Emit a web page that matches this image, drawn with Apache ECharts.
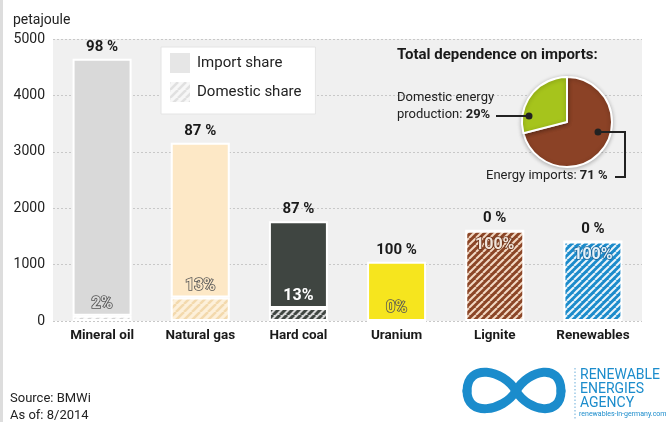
<!DOCTYPE html>
<html>
<head>
<meta charset="utf-8">
<script src="https://cdn.jsdelivr.net/npm/echarts@6/dist/echarts.min.js"></script>
<style>
html,body{margin:0;padding:0;background:#fff;}
#chart{width:669px;height:422px;}
</style>
</head>
<body>
<div id="chart"></div>
<script>
// ---- data ----
const categories = ['Mineral oil', 'Natural gas', 'Hard coal', 'Uranium', 'Lignite', 'Renewables'];
const importValues = [4555, 2745, 1540, 1050, 0, 0];          // petajoule
const domesticValues = [95, 415, 230, 0, 1600, 1410];         // petajoule
const importShare = [98, 87, 87, 100, 0, 0];                  // %
const domesticShare = [2, 13, 13, 0, 100, 100];               // %
const yTicks = [0, 1000, 2000, 3000, 4000, 5000];
const pieNames = ['Energy imports', 'Domestic energy production'];
const pieValues = [71, 29];

// ---- styles ----
const FONT = 'Roboto';
function hatch(bg, fg, s, lw) {
  const c = document.createElement('canvas');
  c.width = s; c.height = s;
  const g = c.getContext('2d');
  g.fillStyle = bg; g.fillRect(0, 0, s, s);
  g.strokeStyle = fg; g.lineWidth = lw;
  for (const k of [-s, 0, s]) {
    g.beginPath(); g.moveTo(k, s); g.lineTo(k + s, 0); g.stroke();
  }
  return { image: c, repeat: 'repeat' };
}
const importColors = ['#d9d9d9', '#fde8c6', '#3f4541', '#f6e51e', '#8b4526', '#1b8bcb'];
const domesticColors = [
  hatch('#fafafa', '#d4d4d4', 8, 2.5),
  hatch('#fdf0da', '#f3d9ad', 8, 2.5),
  hatch('#d8d8d8', '#3f4541', 7, 3),
  hatch('#fdf6b0', '#f6e51e', 7, 2.5),
  hatch('#8b4526', '#f2d9c4', 7, 2),
  hatch('#1b8bcb', '#eaf5fb', 7, 2)
];
const innerLabelFill = ['#dcdcdc', '#fde8c6', '#ffffff', '#f6e51e', '#f2e6dc', '#e8f3fa'];
const innerLabelStroke = ['#555555', '#555555', '#3f4541', '#555555', '#6b3118', '#15649a'];

const chart = echarts.init(document.getElementById('chart'));

const LOGO = '#1b8ccc';
const infinity = [
  [516, 391, 529, 369, 561, 363, 561, 391],
  [561, 391, 561, 417, 529, 412, 516, 391],
  [516, 391, 503, 369, 467, 363, 467, 391],
  [467, 391, 467, 417, 503, 412, 516, 391]
].map(b => ({
  type: 'bezierCurve', z: 10,
  shape: { x1: b[0], y1: b[1], cpx1: b[2], cpy1: b[3], cpx2: b[4], cpy2: b[5], x2: b[6], y2: b[7] },
  style: { stroke: LOGO, lineWidth: 9, fill: null, lineCap: 'round' }
}));

const option = {
  backgroundColor: '#ffffff',
  animation: false,
  textStyle: { fontFamily: FONT },
  title: {
    text: 'petajoule', left: 8, top: 8,
    textStyle: { fontFamily: FONT, fontSize: 14, fontWeight: 'normal', color: '#222' }
  },
  legend: {
    orient: 'vertical', left: 161, top: 47,
    backgroundColor: '#ffffff', borderColor: '#e4e4e4', borderWidth: 1,
    padding: [6, 14, 12, 9], itemGap: 9, itemWidth: 20, itemHeight: 20,
    textStyle: { fontFamily: FONT, fontSize: 15, color: '#222', padding: [0, 0, 0, 2] },
    data: [
      { name: 'Import share', icon: 'rect', itemStyle: { color: '#e6e6e6', borderWidth: 0 } },
      { name: 'Domestic share', icon: 'rect', itemStyle: { color: hatch('#f7f7f7', '#e0e0e0', 8, 2.5), borderWidth: 0 } }
    ]
  },
  grid: {
    left: 53, right: 27, top: 39, bottom: 101,
    show: true, backgroundColor: '#f0f0f0', borderWidth: 0
  },
  xAxis: {
    type: 'category', data: categories,
    axisLine: { show: false }, axisTick: { show: false },
    axisLabel: { interval: 0, fontFamily: FONT, fontSize: 13.5, fontWeight: 'bold', color: '#1a1a1a', margin: 8 }
  },
  yAxis: {
    type: 'value', min: yTicks[0], max: yTicks[yTicks.length - 1], interval: 1000,
    axisLine: { show: false }, axisTick: { show: false },
    axisLabel: { fontFamily: FONT, fontSize: 14, color: '#222', margin: 8, formatter: v => String(v) },
    splitLine: { lineStyle: { color: '#c8c8c8', type: [2, 2] } }
  },
  series: [
    {
      name: 'Domestic share', type: 'bar', stack: 'total', barWidth: 59,
      data: domesticValues.map((v, i) => ({
        value: v,
        itemStyle: { color: domesticColors[i] },
        label: {
          position: domesticShare[i] === 100 ? 'insideTop' : 'top',
          distance: domesticShare[i] === 100 ? 6 : 4,
          color: innerLabelFill[i], textBorderColor: innerLabelStroke[i]
        }
      })),
      itemStyle: { borderColor: '#ffffff', borderWidth: 2 },
      label: {
        show: true, fontFamily: FONT, fontSize: 16, fontWeight: 'bold',
        textBorderWidth: 1.6,
        formatter: p => domesticShare[p.dataIndex] + '%'
      },
      z: 3
    },
    {
      name: 'Import share', type: 'bar', stack: 'total', barWidth: 59,
      data: importValues.map((v, i) => ({ value: v, itemStyle: { color: importColors[i] } })),
      itemStyle: { borderColor: '#ffffff', borderWidth: 2 },
      label: {
        show: true, position: 'top', distance: 4,
        fontFamily: FONT, fontSize: 15, fontWeight: 'bold', color: '#1a1a1a',
        formatter: p => importShare[p.dataIndex] + ' %'
      },
      z: 2
    },
    {
      name: 'Total dependence on imports', type: 'pie',
      center: [567, 122], radius: 45, startAngle: 90, clockwise: true,
      label: { show: false }, labelLine: { show: false },
      itemStyle: {
        borderColor: '#ffffff', borderWidth: 2,
        shadowColor: 'rgba(0,0,0,0.25)', shadowBlur: 4, shadowOffsetY: 1
      },
      data: pieNames.map((n, i) => ({
        name: n, value: pieValues[i],
        itemStyle: { color: i === 0 ? '#8b4226' : '#a6c41c' }
      })),
      z: 5
    }
  ],
  graphic: [
    { type: 'rect', left: 0, top: 0, shape: { width: 3, height: 422 }, style: { fill: '#dddddd' } },
    {
      type: 'text', left: 397, top: 48, z: 10,
      style: { text: 'Total dependence on imports:', font: 'bold 15px Roboto', fill: '#1a1a1a' }
    },
    {
      type: 'text', left: 397, top: 91, z: 10,
      style: {
        text: '{n|Domestic energy}\n{n|production: }{b|' + pieValues[1] + '%}',
        rich: {
          n: { font: '13px Roboto', fill: '#222', lineHeight: 17 },
          b: { font: 'bold 13px Roboto', fill: '#222', lineHeight: 17 }
        }
      }
    },
    {
      type: 'text', left: 486, top: 169, z: 10,
      style: {
        text: '{n|Energy imports: }{b|' + pieValues[0] + ' %}',
        rich: {
          n: { font: '13px Roboto', fill: '#222' },
          b: { font: 'bold 13px Roboto', fill: '#222' }
        }
      }
    },
    { type: 'polyline', z: 10, shape: { points: [[496, 116], [529, 116]] }, style: { stroke: '#222', lineWidth: 2, fill: null } },
    { type: 'circle', z: 10, shape: { cx: 529, cy: 116, r: 3.5 }, style: { fill: '#222' } },
    { type: 'polyline', z: 10, shape: { points: [[598, 132], [625, 132], [625, 177], [615, 177]] }, style: { stroke: '#222', lineWidth: 2, fill: null } },
    { type: 'circle', z: 10, shape: { cx: 598, cy: 132, r: 3.5 }, style: { fill: '#222' } },
    {
      type: 'text', left: 10, top: 390,
      style: { text: 'Source: BMWi\nAs of: 8/2014', font: '13px Roboto', fill: '#222', lineHeight: 17 }
    },
    ...infinity,
    {
      type: 'line', z: 10, shape: { x1: 575, y1: 368, x2: 575, y2: 420 },
      style: { stroke: '#9cc9e6', lineWidth: 1.5, lineDash: [1.5, 2] }
    },
    {
      type: 'text', left: 580, top: 368, z: 10,
      style: { text: 'RENEWABLE\nENERGIES\nAGENCY', font: '14px Roboto', fill: LOGO, lineHeight: 14 }
    },
    {
      type: 'text', left: 579, top: 411, z: 10,
      style: { text: 'renewables-in-germany.com', font: '7px Roboto', fill: LOGO }
    }
  ]
};
chart.setOption(option);
</script>
</body>
</html>
